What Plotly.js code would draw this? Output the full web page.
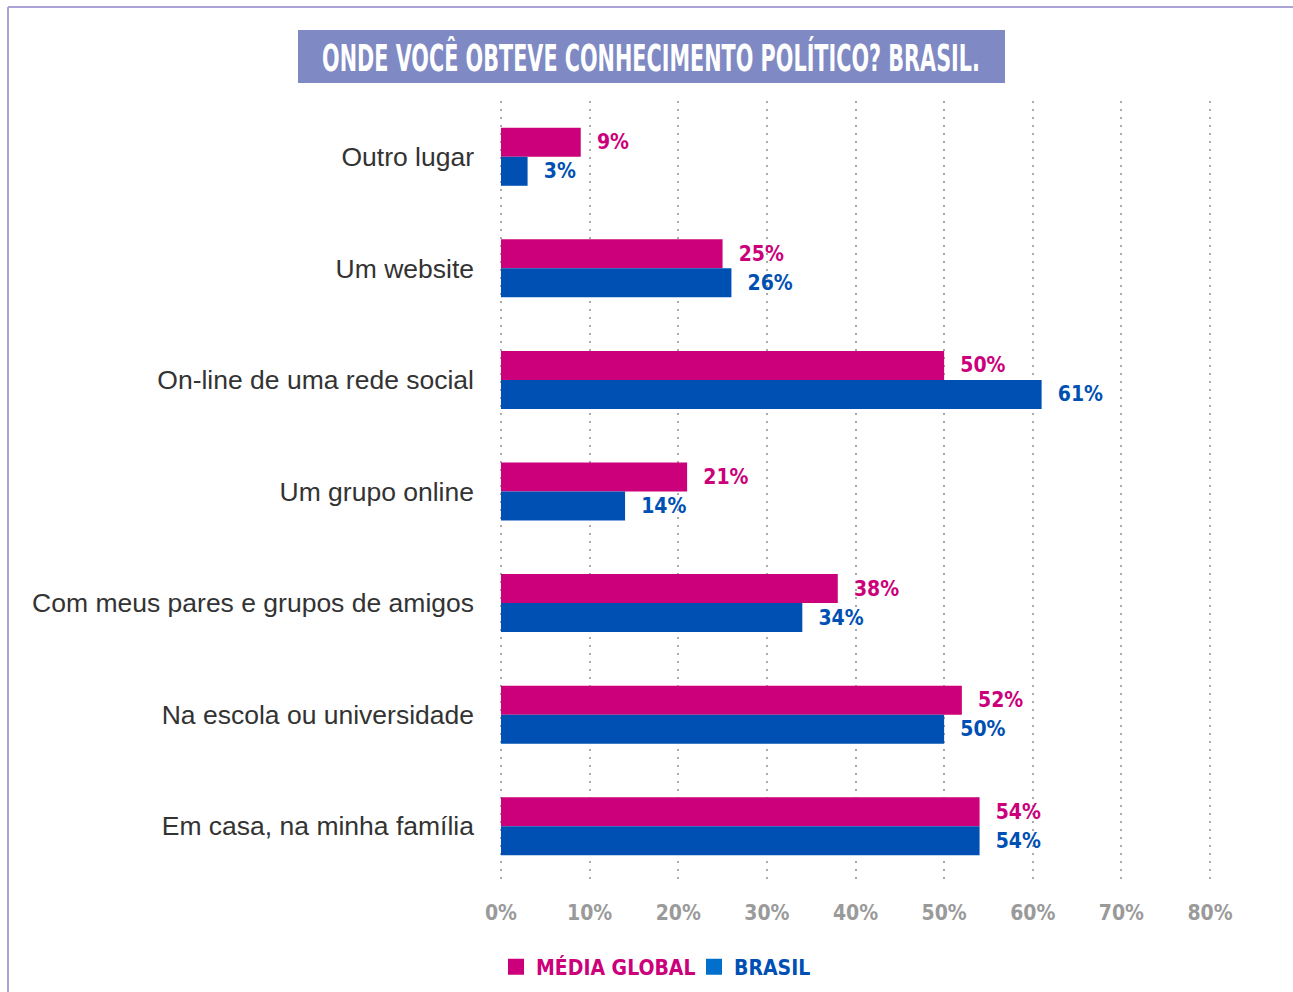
<!DOCTYPE html>
<html>
<head>
<meta charset="utf-8">
<script src="https://cdn.plot.ly/plotly-3.0.1.min.js"></script>
<style>html,body{margin:0;padding:0;background:#fff;}#chart{width:1293px;height:992px;}</style>
</head>
<body>
<div id="chart"></div>
<script>
const categories = [
  "Outro lugar",
  "Um website",
  "On-line de uma rede social",
  "Um grupo online",
  "Com meus pares e grupos de amigos",
  "Na escola ou universidade",
  "Em casa, na minha família"
];
const mediaGlobal = [9, 25, 50, 21, 38, 52, 54];
const brasil = [3, 26, 61, 14, 34, 50, 54];
const tickVals = [0, 10, 20, 30, 40, 50, 60, 70, 80];
const tickText = ["0%", "10%", "20%", "30%", "40%", "50%", "60%", "70%", "80%"];
const seriesNames = ["MÉDIA GLOBAL", "BRASIL"];
const titleText = "ONDE VOCÊ OBTEVE CONHECIMENTO POLÍTICO? BRASIL.";

const PINK = "#cc007a";
const BLUE = "#0050b4";
const BLUE_LEG = "#0070cc";
const COND = "'Liberation Sans Narrow', 'DejaVu Sans Condensed', 'Roboto Condensed', sans-serif";

// plot area in pixels (slightly padded so the 0% and 80% grid lines are drawn)
const L = 497, R = 1214, T = 101, B = 882;
const px = v => (v - L) / (R - L);
const py = v => (B - v) / (B - T);

const traces = [
  {
    type: "bar", orientation: "h", name: seriesNames[0],
    y: categories, x: mediaGlobal,
    marker: {color: PINK},
    text: mediaGlobal.map(v => "\u00a0\u00a0" + v + "%"),
    textposition: "outside", cliponaxis: false,
    textfont: {family: COND, size: 21, color: PINK, weight: "bold"},
    showlegend: false, hoverinfo: "skip"
  },
  {
    type: "bar", orientation: "h", name: seriesNames[1],
    y: categories, x: brasil,
    marker: {color: BLUE},
    text: brasil.map(v => "\u00a0\u00a0" + v + "%"),
    textposition: "outside", cliponaxis: false,
    textfont: {family: COND, size: 21, color: BLUE, weight: "bold"},
    showlegend: false, hoverinfo: "skip"
  },
  {
    type: "scatter", mode: "markers", x: [null], y: [null],
    name: '<span style="color:' + PINK + '">' + seriesNames[0] + '</span>',
    marker: {symbol: "square", size: 16, color: PINK}, showlegend: true
  },
  {
    type: "scatter", mode: "markers", x: [null], y: [null],
    name: '<span style="color:' + BLUE + '">' + seriesNames[1] + '</span>',
    marker: {symbol: "square", size: 16, color: BLUE_LEG}, showlegend: true
  }
];

const layout = {
  width: 1293, height: 992,
  margin: {l: L, r: 1293 - R, t: T, b: 992 - B, pad: 0, autoexpand: false},
  paper_bgcolor: "#ffffff", plot_bgcolor: "rgba(0,0,0,0)",
  barmode: "group", bargap: 0.48, bargroupgap: 0,
  title: {
    text: titleText, x: 651 / 1293, xref: "container", xanchor: "center",
    y: 1 - 58 / 992, yref: "container", yanchor: "middle",
    font: {family: COND, size: 38, color: "#ffffff", weight: "bold"}
  },
  xaxis: {
    range: [-0.45, 80.45], tickvals: tickVals, ticktext: tickText,
    showgrid: true, gridcolor: "#aaaaaa", gridwidth: 2, griddash: "2px,6px",
    zeroline: false, showline: false, ticks: "",
    ticklabelstandoff: 16,
    tickfont: {family: COND, size: 21, color: "#9a9a9a", weight: "bold"},
    fixedrange: true
  },
  yaxis: {
    type: "category", categoryorder: "array", categoryarray: categories,
    autorange: "reversed", showgrid: false, zeroline: false, showline: false,
    ticks: "", ticklabelstandoff: 22,
    tickfont: {family: "'Liberation Sans', Arial, sans-serif", size: 26.5, color: "#333333"},
    fixedrange: true
  },
  legend: {
    orientation: "h", x: px(496), xanchor: "left", y: py(967), yanchor: "middle",
    font: {family: COND, size: 21, weight: "bold"},
    entrywidth: 153, entrywidthmode: "pixels",
    bgcolor: "rgba(0,0,0,0)", itemclick: false, itemdoubleclick: false
  },
  shapes: [
    {type: "rect", xref: "paper", yref: "paper", layer: "below",
     x0: px(298), x1: px(1005), y0: py(83), y1: py(30),
     fillcolor: "#7f89c3", line: {width: 0}},
    {type: "line", xref: "paper", yref: "paper",
     x0: px(8), x1: px(1293), y0: py(7), y1: py(7),
     line: {color: "#aaa4d6", width: 2}},
    {type: "line", xref: "paper", yref: "paper",
     x0: px(8), x1: px(8), y0: py(7), y1: py(992),
     line: {color: "#aaa4d6", width: 2}}
  ],
  showlegend: true
};

Plotly.newPlot("chart", traces, layout, {displayModeBar: false, staticPlot: true}).then(gd => {
  // condense the banner title horizontally, like the original condensed typeface
  gd.querySelectorAll(".gtitle").forEach(t => {
    const w = t.getComputedTextLength();
    const cx = 651;
    const s = 658 / w;
    t.setAttribute("transform", "translate(" + cx + ",0) scale(" + s + ",1) translate(" + (-cx) + ",0)");
  });
});
</script>
</body>
</html>
